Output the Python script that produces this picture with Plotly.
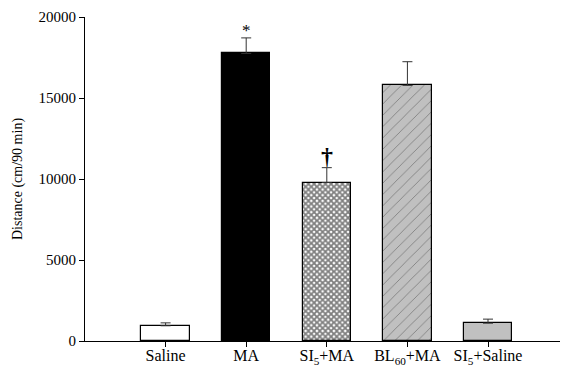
import plotly.graph_objects as go

categories = ["Saline", "MA", "SI<sub>5</sub>+MA", "BL<sub>60</sub>+MA", "SI<sub>5</sub>+Saline"]
means = [940, 17750, 9780, 15780, 1100]
sem = [180, 960, 920, 1460, 250]
marks = ["", "*", "<b>†</b>", "", ""]

fills = ["white", "black", "white", "#c0c0c0", "#c0c0c0"]
shapes = ["", "", "x", "/", ""]
fgs = ["black", "black", "black", "#333333", "black"]

fig = go.Figure()
for i, c in enumerate(categories):
    fig.add_trace(go.Bar(
        x=[i], y=[means[i]], width=0.6,
        marker=dict(color=fills[i], line=dict(color="black", width=1.2),
                    pattern=dict(shape=shapes[i], fgcolor=fgs[i], bgcolor=fills[i],
                                 size=4 if shapes[i] == "x" else 8,
                                 solidity=0.7 if shapes[i] == "x" else 0.1,
                                 fillmode="overlay")),
        error_y=dict(type="data", symmetric=False, array=[sem[i]], arrayminus=[0],
                     color="#333333", thickness=1, width=5),
        showlegend=False,
    ))

for i, m in enumerate(marks):
    if m:
        fig.add_annotation(x=i, y=means[i] + sem[i], text=m, showarrow=False,
                           yanchor="bottom", yshift=-4 if m == "*" else -3,
                           font=dict(family="Liberation Serif", size=17 if m == "*" else 24, color="black"))

fig.update_layout(
    width=560, height=359,
    margin=dict(l=77, r=1, t=7, b=26),
    plot_bgcolor="white", paper_bgcolor="white",
    font=dict(family="Liberation Serif", size=14, color="black"),
    bargap=0,
)
fig.update_xaxes(range=[-1, 4.98], tickmode="array", tickvals=list(range(5)), ticktext=categories,
                 showline=True, linecolor="black", linewidth=1, ticks="outside", ticklen=5,
                 tickcolor="black", showgrid=False, zeroline=False, tickfont=dict(size=16),
                 automargin=False, ticklabelstandoff=-5)
fig.update_yaxes(range=[0, 20000], tickvals=[0, 5000, 10000, 15000, 20000], tickformat="d",
                 showline=True, linecolor="black", linewidth=1, ticks="outside", ticklen=5,
                 tickcolor="black", showgrid=False, zeroline=False, tickfont=dict(size=15),
                 ticklabeloverflow="allow",
                 title=dict(text="Distance (cm/90 min)", font=dict(size=14), standoff=12))

fig.write_html("out.html")
